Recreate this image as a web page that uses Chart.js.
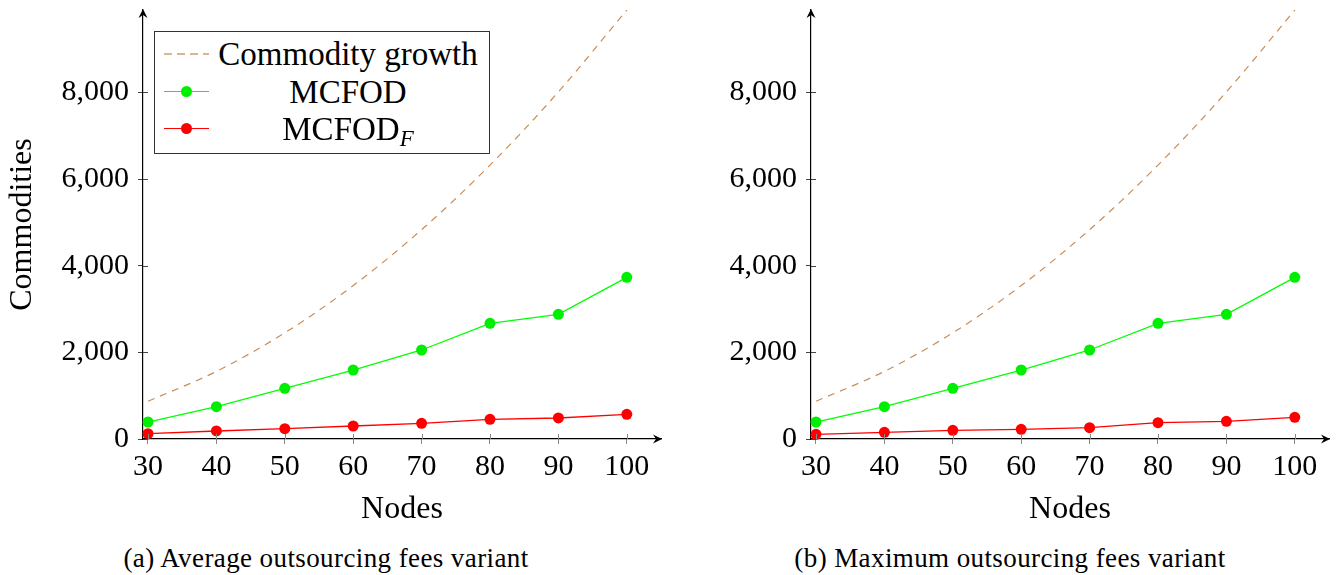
<!DOCTYPE html>
<html>
<head>
<meta charset="utf-8">
<script src="https://cdn.jsdelivr.net/npm/chart.js@4.4.0/dist/chart.umd.min.js"></script>
<style>
  body { margin: 0; background: #fff; width: 1338px; height: 575px; position: relative; overflow: hidden; font-family: 'Liberation Serif', serif; color: #000; }
  canvas { position: absolute; top: 0; }
  #avgChart { left: 0; }
  #maxChart { left: 668px; }
  .caption { position: absolute; top: 543px; font-size: 27px; letter-spacing: 0.4px; white-space: nowrap; transform: translateX(-50%); }
  #legend { position: absolute; left: 154px; top: 31px; width: 334px; height: 121px; border: 1px solid #333; background: #fff; }
  .row { position: absolute; left: 0; width: 100%; height: 40px; }
  .row .txt { position: absolute; left: 58px; width: 270px; text-align: center; font-size: 33px; line-height: 40px; }
  .row .ln { position: absolute; left: 9px; top: 19px; width: 45px; height: 1.3px; }
  .row .dot { position: absolute; left: 26px; top: 14px; width: 11px; height: 11px; border-radius: 50%; }
  .dash { background: repeating-linear-gradient(90deg, #d9b590 0 8px, transparent 8px 13px); height: 2px !important; }
  sub { font-size: 23px; font-style: italic; vertical-align: -6px; }
</style>
</head>
<body>
<canvas id="avgChart" width="669" height="530"></canvas>
<canvas id="maxChart" width="669" height="530"></canvas>

<div id="legend">
  <div class="row" style="top:2px"><div class="ln dash"></div><div class="txt">Commodity growth</div></div>
  <div class="row" style="top:40px"><div class="ln" style="background:#00ff00"></div><div class="dot" style="background:#00ee00"></div><div class="txt">MCFOD</div></div>
  <div class="row" style="top:77px"><div class="ln" style="background:#ff0000"></div><div class="dot" style="background:#ff0000"></div><div class="txt">MCFOD<sub>F</sub></div></div>
</div>

<div class="caption" style="left:326px">(a) Average outsourcing fees variant</div>
<div class="caption" style="left:1010px">(b) Maximum outsourcing fees variant</div>

<script>
const nodes = [30, 40, 50, 60, 70, 80, 90, 100];
const commodityGrowth = [870, 1560, 2450, 3540, 4830, 6320, 8010, 9900];

// (a) average outsourcing fees
const mcfodAvg = [392, 746, 1169, 1592, 2054, 2669, 2877, 3731];
const mcfodFAvg = [123, 185, 238, 300, 362, 454, 485, 569];

// (b) maximum outsourcing fees
const mcfodMax = [392, 746, 1169, 1592, 2054, 2669, 2877, 3731];
const mcfodFMax = [108, 154, 200, 223, 262, 377, 408, 500];

const xTicks = [30, 40, 50, 60, 70, 80, 90, 100];
const yTicks = [0, 2000, 4000, 6000, 8000];

Chart.defaults.font.family = "'Liberation Serif', serif";
Chart.defaults.color = '#000';

// pgfplots style arrows on the axes and the inner half of the tick marks
const axisArrows = {
    id: 'axisArrows',
    afterDraw(chart) {
        const { ctx, chartArea: a, scales } = chart;
        ctx.save();
        ctx.lineWidth = 1;
        ctx.strokeStyle = '#888';
        scales.x.ticks.forEach(t => {
            const px = Math.round(scales.x.getPixelForValue(t.value)) + 0.5;
            ctx.beginPath();
            ctx.moveTo(px, a.bottom);
            ctx.lineTo(px, a.bottom - 5);
            ctx.stroke();
        });
        ctx.strokeStyle = '#444';
        scales.y.ticks.forEach(t => {
            const py = Math.round(scales.y.getPixelForValue(t.value)) + 0.5;
            ctx.beginPath();
            ctx.moveTo(a.left, py);
            ctx.lineTo(a.left + 5, py);
            ctx.stroke();
        });
        ctx.fillStyle = '#000';
        ctx.beginPath();
        ctx.moveTo(a.right + 1, a.bottom);
        ctx.lineTo(a.right - 8, a.bottom - 4.5);
        ctx.lineTo(a.right - 5, a.bottom);
        ctx.lineTo(a.right - 8, a.bottom + 4.5);
        ctx.closePath();
        ctx.fill();
        ctx.beginPath();
        ctx.moveTo(a.left, a.top - 1);
        ctx.lineTo(a.left - 4.5, a.top + 8);
        ctx.lineTo(a.left, a.top + 5);
        ctx.lineTo(a.left + 4.5, a.top + 8);
        ctx.closePath();
        ctx.fill();
        ctx.restore();
    }
};

function makeChart(id, green, red, showYTitle) {
    const ctx = document.getElementById(id).getContext('2d');
    return new Chart(ctx, {
        type: 'line',
        data: {
            labels: nodes,
            datasets: [{
                label: 'Commodity growth',
                data: nodes.map((n, i) => ({ x: n, y: commodityGrowth[i] })),
                borderColor: '#c98d58',
                borderWidth: 1.2,
                borderDash: [7, 6],
                pointRadius: 0,
                cubicInterpolationMode: 'monotone',
                fill: false
            }, {
                label: 'MCFOD',
                data: nodes.map((n, i) => ({ x: n, y: green[i] })),
                borderColor: '#00ff00',
                backgroundColor: '#00ee00',
                borderWidth: 1.3,
                pointRadius: 5.5,
                pointBorderWidth: 0,
                tension: 0,
                clip: false
            }, {
                label: 'MCFOD_F',
                data: nodes.map((n, i) => ({ x: n, y: red[i] })),
                borderColor: '#ff0000',
                backgroundColor: '#ff0000',
                borderWidth: 1.3,
                pointRadius: 5.5,
                pointBorderWidth: 0,
                tension: 0,
                clip: false
            }]
        },
        options: {
            responsive: false,
            animation: false,
            layout: { padding: { top: 10, right: 8, left: 0, bottom: 0 } },
            plugins: { legend: { display: false }, tooltip: { enabled: false } },
            scales: {
                x: {
                    type: 'linear',
                    min: 29.27,
                    max: 105,
                    afterBuildTicks: scale => { scale.ticks = xTicks.map(v => ({ value: v })); },
                    afterFit: scale => { scale.height = 91; scale.paddingLeft = 0; scale.paddingRight = 0; },
                    grid: { display: true, drawOnChartArea: false, drawTicks: true, tickLength: 5, color: '#888' },
                    border: { display: true, color: '#000', width: 1.2 },
                    ticks: { font: { size: 30 }, padding: 5, maxRotation: 0 },
                    title: { display: true, text: 'Nodes', font: { size: 32 }, padding: { top: 0, bottom: 1 } }
                },
                y: {
                    type: 'linear',
                    min: 0,
                    max: 9900,
                    afterBuildTicks: scale => { scale.ticks = yTicks.map(v => ({ value: v })); },
                    afterFit: scale => { scale.width = 143; scale.paddingTop = 0; scale.paddingBottom = 0; },
                    grid: { display: true, drawOnChartArea: false, drawTicks: true, tickLength: 5, color: '#444' },
                    border: { display: true, color: '#000', width: 1.2 },
                    ticks: { font: { size: 30 }, padding: 9, callback: v => v.toLocaleString('en-US') },
                    title: { display: showYTitle, text: 'Commodities', font: { size: 32 }, padding: { top: 3, bottom: 0 } }
                }
            }
        },
        plugins: [axisArrows]
    });
}

makeChart('avgChart', mcfodAvg, mcfodFAvg, true);
makeChart('maxChart', mcfodMax, mcfodFMax, false);
</script>
</body>
</html>
